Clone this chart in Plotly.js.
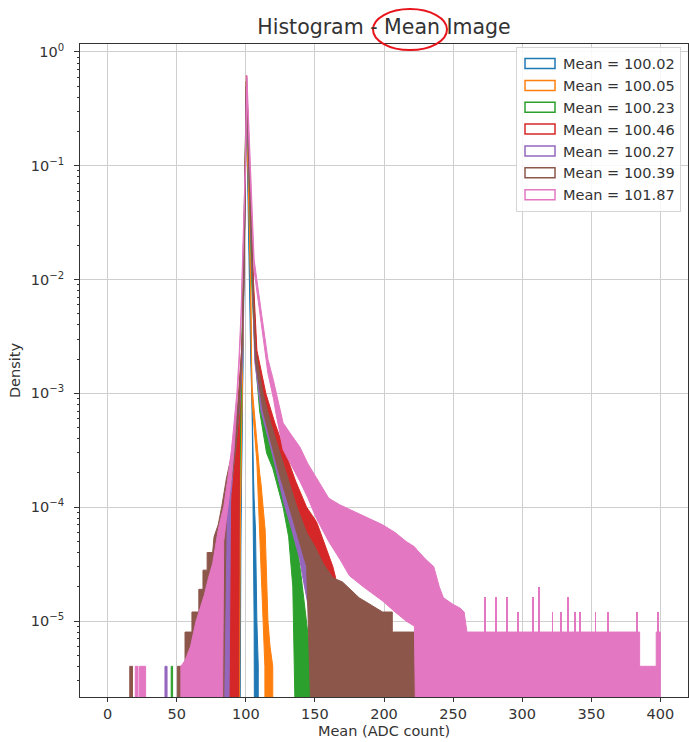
<!DOCTYPE html>
<html>
<head>
<meta charset="utf-8">
<script src="https://cdn.plot.ly/plotly-3.0.1.min.js"></script>
<style>html,body{margin:0;padding:0;background:#fff;}</style>
</head>
<body>
<div id="chart" style="width:689px;height:742px;"></div>
<script>
// ---- Legend labels (mean of each image) ----
const meanLabels = ['100.02', '100.05', '100.23', '100.46', '100.27', '100.39', '101.87'];

// ---- Histogram envelopes: ADC value, upper density, lower density (0 = empty bins) ----
const blueX  = [93.5, 94.5, 95.5, 96.5, 97.5, 98.5, 99.6, 100.3, 101.5, 102.8, 103.6, 104.6, 105.5, 106, 106.5, 107, 108, 109, 109.01];
const blueHi = [0, 4e-6, 1e-5, 1e-4, 1e-3, 1e-2, 0.1, 0.5, 0.1, 1e-2, 2.4e-3, 1e-3, 2e-4, 1.2e-4, 9e-5, 6.3e-5, 1e-5, 4e-6, 0];
const blueLo = [0, 0, 0, 7e-5, 8e-4, 8e-3, 0.08, 0.4, 0.08, 8e-3, 1.9e-3, 7e-4, 6.3e-5, 1e-5, 0, 0, 0, 0, 0];

const orangeX  = [93, 94, 95, 96, 97, 98.3, 99.6, 100.3, 101.8, 103.5, 104.4, 106, 108, 110, 111, 112.5, 113.8, 114, 116, 117.5, 119.5, 119.51];
const orangeHi = [0, 4e-6, 1e-5, 1e-4, 1e-3, 1e-2, 0.1, 0.55, 0.1, 1e-2, 1.2e-3, 7e-4, 4e-4, 2e-4, 1.6e-4, 1e-4, 7e-5, 6.3e-5, 1e-5, 6e-6, 4e-6, 0];
const orangeLo = [0, 0, 0, 7e-5, 8e-4, 8e-3, 0.08, 0.45, 0.08, 8e-3, 9e-4, 5e-4, 2.5e-4, 6.3e-5, 3e-5, 1e-5, 4e-6, 0, 0, 0, 0, 0];

const greenX  = [46, 46, 47, 47, 92, 93, 94, 95, 96.5, 98, 99.5, 100.4, 102.3, 104.5, 107, 110, 115, 119.5, 124.5, 127, 131, 134, 137.5, 140, 143.5, 146, 149, 149, 150.5, 150.5, 152, 152];
const greenHi = [0, 4e-6, 4e-6, 0, 0, 4e-6, 1.5e-5, 1e-4, 1e-3, 1e-2, 0.1, 0.55, 0.1, 1e-2, 2.5e-3, 1e-3, 4.5e-4, 3e-4, 2.2e-4, 1.6e-4, 1e-4, 6.3e-5, 4.2e-5, 2.5e-5, 1e-5, 6e-6, 4e-6, 0, 0, 4e-6, 4e-6, 0];
const greenLo = [0, 0, 0, 0, 0, 0, 0, 7e-5, 8e-4, 8e-3, 0.08, 0.45, 0.08, 8e-3, 1.9e-3, 7e-4, 3e-4, 2.2e-4, 1.3e-4, 1e-4, 5.5e-5, 2e-5, 0, 0, 0, 0, 0, 0, 0, 0, 0, 0];

const redX  = [84.8, 85.5, 86.5, 87.5, 89, 92, 94.5, 95.5, 96.5, 97.5, 98.3, 99.6, 100.4, 102.7, 105.5, 108, 114.5, 121, 128, 136, 144, 148, 151, 152, 158, 163, 165, 165.01];
const redHi = [0, 4e-6, 1e-5, 4.2e-5, 1e-4, 3.2e-4, 8e-4, 1.3e-3, 2e-3, 3e-3, 1e-2, 0.1, 0.62, 0.1, 1e-2, 2.4e-3, 1e-3, 5.5e-4, 3.2e-4, 1.7e-4, 1e-4, 8.5e-5, 7.5e-5, 7e-5, 4.5e-5, 3e-5, 2.4e-5, 0];
const redLo = [0, 0, 0, 0, 0, 0, 0, 5e-4, 1.4e-3, 2.4e-3, 8e-3, 0.08, 0.5, 0.08, 8e-3, 1.9e-3, 6.5e-4, 3.4e-4, 1.9e-4, 1e-4, 6e-5, 4.5e-5, 3.5e-5, 0, 0, 0, 0, 0];

const purpleX  = [41.5, 41.5, 43, 43, 81.5, 81.5, 82, 83, 85, 87, 89, 91, 93, 95.5, 97.5, 98.6, 99.7, 100.4, 102.5, 105, 106.5, 111, 119, 127.5, 133, 139, 141, 146, 150, 152, 152, 155, 155, 159, 159];
const purpleHi = [0, 4e-6, 4e-6, 0, 0, 4e-6, 1e-5, 6.3e-5, 8e-5, 1.1e-4, 2e-4, 3.2e-4, 5.5e-4, 1e-3, 2.4e-3, 1e-2, 0.1, 0.55, 0.1, 1e-2, 2.4e-3, 1e-3, 4.7e-4, 1.7e-4, 1e-4, 6.3e-5, 4.2e-5, 2.2e-5, 1e-5, 6e-6, 0, 0, 8e-6, 8e-6, 0];
const purpleLo = [0, 0, 0, 0, 0, 0, 0, 0, 0, 0, 1.2e-4, 2.2e-4, 4e-4, 7.5e-4, 1.9e-3, 8e-3, 0.08, 0.45, 0.08, 8e-3, 1.9e-3, 7e-4, 3e-4, 1.1e-4, 6.5e-5, 3.5e-5, 2.5e-5, 1.2e-5, 6e-6, 0, 0, 0, 0, 0, 0];

const brownX  = [16, 16, 18, 18, 50.5, 50.5, 56, 56, 61, 61, 66, 66, 69, 69, 72, 72, 76, 77, 80, 82.5, 86, 90.5, 93, 95, 97, 98.5, 99.8, 100.6, 102.5, 105, 107, 112.5, 118, 124, 131, 137, 144, 150, 156, 163, 170, 182, 199, 206, 206, 222, 222, 231, 231];
const brownHi = [0, 4e-6, 4e-6, 0, 0, 4e-6, 4e-6, 8e-6, 8e-6, 1.2e-5, 1.2e-5, 1.9e-5, 1.9e-5, 2.8e-5, 2.8e-5, 4e-5, 4e-5, 5.5e-5, 7e-5, 1e-4, 1.8e-4, 3.2e-4, 5.5e-4, 1e-3, 2.4e-3, 1e-2, 0.1, 0.6, 0.1, 1e-2, 2.4e-3, 1e-3, 5.5e-4, 3.2e-4, 1.7e-4, 1e-4, 6e-5, 4.5e-5, 3.2e-5, 2.4e-5, 2.2e-5, 1.6e-5, 1.2e-5, 1.2e-5, 8e-6, 8e-6, 4e-6, 4e-6, 0];
const brownLo = [0, 0, 0, 0, 0, 0, 0, 0, 0, 0, 0, 0, 0, 0, 0, 0, 0, 0, 0, 0, 1.1e-4, 2e-4, 3.5e-4, 7e-4, 1.9e-3, 8e-3, 0.08, 0.48, 0.08, 8e-3, 1.9e-3, 7e-4, 3.8e-4, 2e-4, 1.05e-4, 6e-5, 3e-5, 0, 0, 0, 0, 0, 0, 0, 0, 0, 0, 0, 0];

const pinkX  = [20, 20, 22, 22, 23, 23, 27.5, 27.5, 53, 53, 56, 60, 62, 64, 67, 70, 73, 76, 78, 80, 82.4, 84, 87, 89.6, 91.5, 93.5, 95, 96.5, 97.6, 99, 99.7, 100.8,
                103, 106, 111, 116, 120, 122, 127, 133, 139, 145, 151, 160, 168, 175, 185, 199, 208, 216, 222, 224, 230, 236, 240, 243, 250, 255, 258, 260, 385, 385, 397, 397, 400, 400];
const pinkHi = [0, 4e-6, 4e-6, 0, 0, 4e-6, 4e-6, 0, 0, 4e-6, 4.5e-6, 6e-6, 8e-6, 1e-5, 1.3e-5, 1.7e-5, 2.4e-5, 3.2e-5, 4.5e-5, 6.3e-5, 8.5e-5, 1e-4, 1.8e-4, 3.2e-4, 5.5e-4, 1e-3, 2e-3, 5e-3, 1.5e-2, 5e-2, 0.11, 0.62,
                0.11, 1.5e-2, 5.4e-3, 2e-3, 1.3e-3, 1e-3, 5.5e-4, 4.3e-4, 3.4e-4, 2.4e-4, 1.8e-4, 1.2e-4, 1.05e-4, 9.6e-5, 8.5e-5, 7e-5, 6e-5, 5e-5, 4.5e-5, 4.2e-5, 3.5e-5, 3e-5, 2e-5, 1.6e-5, 1.4e-5, 1.3e-5, 1.2e-5, 8e-6, 8e-6, 4e-6, 4e-6, 8e-6, 8e-6, 0];
const pinkLo = [0, 0, 0, 0, 0, 0, 0, 0, 0, 0, 0, 0, 0, 0, 0, 0, 0, 0, 0, 0, 0, 5e-5, 1e-4, 1.8e-4, 3.2e-4, 7.5e-4, 1.6e-3, 4e-3, 1.2e-2, 4e-2, 0.09, 0.5,
                0.09, 1.2e-2, 4.3e-3, 1.5e-3, 9e-4, 6.5e-4, 3.2e-4, 2.3e-4, 1.7e-4, 1.2e-4, 8e-5, 5e-5, 3.5e-5, 2.5e-5, 2e-5, 1.5e-5, 1.2e-5, 1e-5, 9e-6, 0, 0, 0, 0, 0, 0, 0, 0, 0, 0, 0, 0, 0, 0, 0];

// isolated tall bins in the far pink tail
const pinkSpikeX = [273, 281, 289, 297, 308, 312, 322, 328, 333, 338, 342, 353, 362, 383, 398.5];
const pinkSpikeY = [1.6e-5, 1.6e-5, 1.6e-5, 1.2e-5, 1.6e-5, 2e-5, 1.2e-5, 1.2e-5, 1.6e-5, 1.2e-5, 1.2e-5, 1.2e-5, 1.2e-5, 1.2e-5, 1.2e-5];

const xTicks = [0, 50, 100, 150, 200, 250, 300, 350, 400];
const yTicks = [1e-5, 1e-4, 1e-3, 1e-2, 1e-1, 1];
const yTickText = ['10<sup>\u22125</sup>', '10<sup>\u22124</sup>', '10<sup>\u22123</sup>', '10<sup>\u22122</sup>', '10<sup>\u22121</sup>', '10<sup>0</sup>'];

// ---- drawing ----
const colors = ['#1f77b4', '#ff7f0e', '#2ca02c', '#d62728', '#9467bd', '#8c564b', '#e377c2'];
const FLOOR = 1e-7; // empty bins drop below the visible range
const series = [
  [blueX, blueHi, blueLo], [orangeX, orangeHi, orangeLo], [greenX, greenHi, greenLo],
  [redX, redHi, redLo], [purpleX, purpleHi, purpleLo], [brownX, brownHi, brownLo], [pinkX, pinkHi, pinkLo]
];
const font = 'DejaVu Sans, Verdana, sans-serif';
const txt = '#333333';

const traces = series.map(([x, hi, lo], i) => {
  const X = x.concat(x.slice().reverse());
  const Y = hi.concat(lo.slice().reverse()).map(v => (v > 0 ? v : FLOOR));
  return {
    type: 'scatter', mode: 'lines', x: X, y: Y, fill: 'toself',
    fillcolor: colors[i], line: {color: colors[i], width: 1},
    showlegend: false, hoverinfo: 'skip'
  };
});
traces.push({
  type: 'bar', x: pinkSpikeX, y: pinkSpikeY, base: FLOOR, width: 1.2,
  marker: {color: colors[6], line: {width: 0}}, showlegend: false, hoverinfo: 'skip'
});
meanLabels.forEach((m, i) => {
  traces.push({
    type: 'bar', x: [null], y: [null], name: 'Mean = ' + m,
    marker: {color: 'rgba(255,255,255,0)', line: {color: colors[i], width: 1.5}},
    showlegend: true
  });
});

const minorVals = [];
for (let k = -7; k <= 0; k++) for (let m = 2; m <= 9; m++) minorVals.push(m * Math.pow(10, k));

const layout = {
  width: 689, height: 742,
  margin: {l: 80, r: 1, t: 44, b: 45},
  paper_bgcolor: '#ffffff', plot_bgcolor: '#ffffff',
  barmode: 'overlay', bargap: 0,
  font: {family: font, size: 14.5, color: txt},
  title: {
    text: 'Histogram - Mean Image', font: {family: font, size: 20.5, color: txt},
    x: 0.5, xref: 'paper', xanchor: 'center', y: 1 - 27.3 / 742, yref: 'container', yanchor: 'middle'
  },
  xaxis: {
    range: [-20, 420], tickmode: 'array', tickvals: xTicks,
    ticks: 'outside', ticklen: 4, tickwidth: 1, tickcolor: txt,
    showline: true, linecolor: txt, linewidth: 1, mirror: true,
    showgrid: true, gridcolor: '#cfcfcf', gridwidth: 1, zeroline: false,
    tickfont: {family: font, size: 14.5, color: txt},
    title: {text: 'Mean (ADC count)', font: {family: font, size: 14.5, color: txt}, standoff: 4},
    automargin: false
  },
  yaxis: {
    type: 'log', range: [Math.log10(2.15e-6), 0.07],
    tickmode: 'array', tickvals: yTicks, ticktext: yTickText,
    ticks: 'outside', ticklen: 5, tickwidth: 1, tickcolor: txt,
    ticklabelstandoff: 7,
    minor: {tickmode: 'array', tickvals: minorVals, ticks: 'outside', ticklen: 2.5, tickcolor: txt, showgrid: false},
    showline: true, linecolor: txt, linewidth: 1, mirror: true,
    showgrid: true, gridcolor: '#cfcfcf', gridwidth: 1, zeroline: false,
    tickfont: {family: font, size: 14.5, color: txt},
    title: {text: 'Density', font: {family: font, size: 14.5, color: txt}, standoff: 6},
    automargin: false
  },
  legend: {
    x: 0.9885, xanchor: 'right', y: 0.996, yanchor: 'top',
    bgcolor: 'rgba(255,255,255,0.85)', bordercolor: '#d5d5d5', borderwidth: 1,
    font: {family: font, size: 14.5, color: txt}, itemwidth: 36, traceorder: 'normal'
  },
  shapes: [{
    type: 'circle', xref: 'paper', yref: 'paper',
    x0: 0.4819, x1: 0.6036, y0: 0.9908, y1: 1.0536,
    line: {color: '#e8141b', width: 2}
  }]
};

Plotly.newPlot('chart', traces, layout, {displayModeBar: false, responsive: false, staticPlot: true}).then(() => {
  document.querySelectorAll('.legend .traces .legendpoints path').forEach(p => {
    p.setAttribute('d', 'M-15,-5h30v10h-30z');
  });
});
</script>
</body>
</html>
